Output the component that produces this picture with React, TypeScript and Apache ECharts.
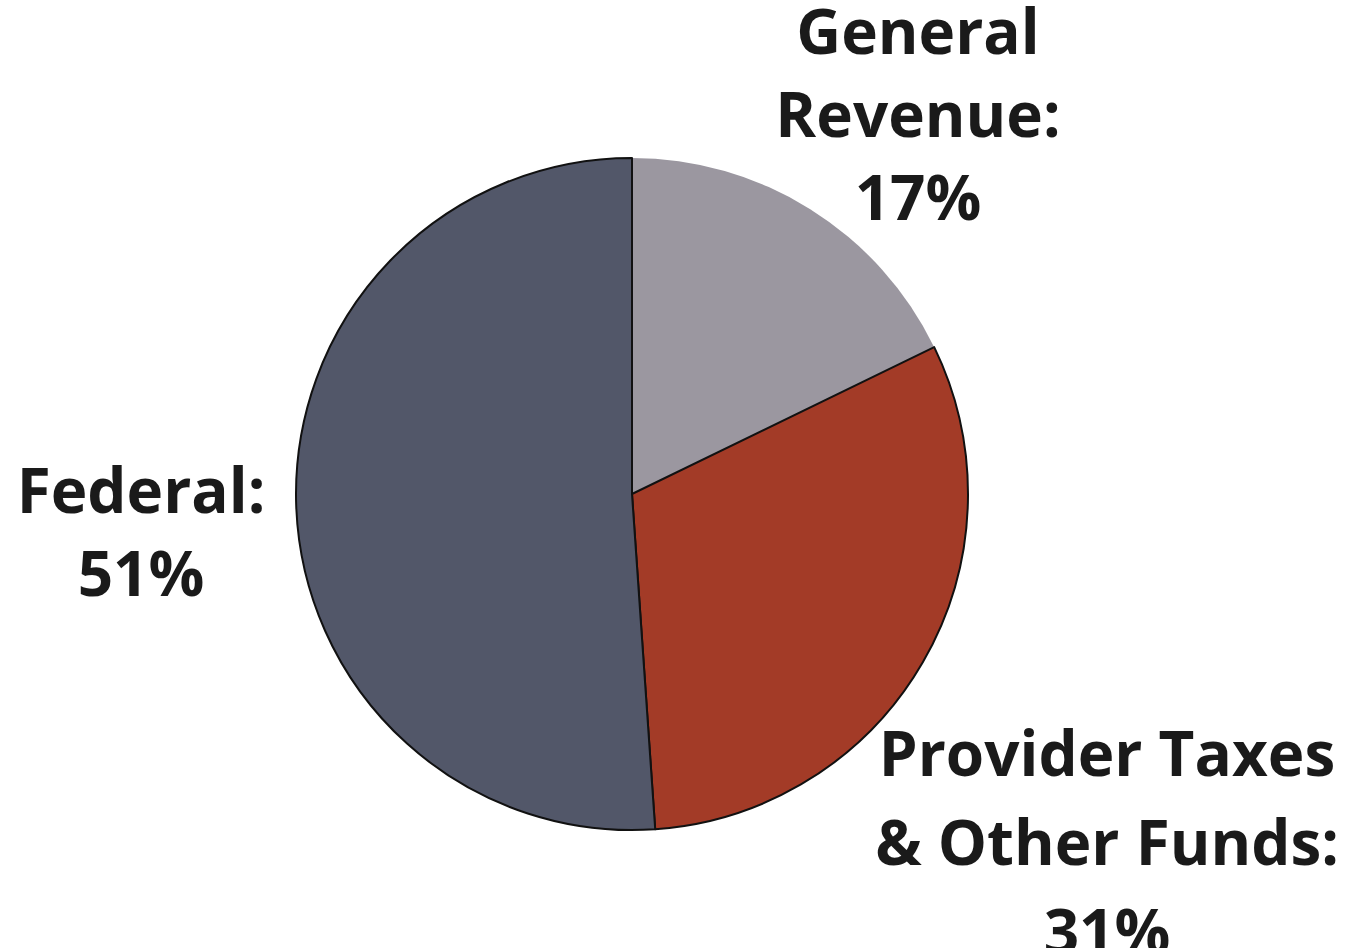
import React, { useEffect, useRef } from "react";
import * as echarts from "echarts";

const categories = ["General\nRevenue", "Provider Taxes\n& Other Funds", "Federal"];
const values = [17.8, 31.1, 51.1];
// percentages as printed in the labels
const pctLabels = ["17%", "31%", "51%"];
const colors = ["#9b97a0", "#a33b27", "#525769"];
const borderWidths = [0, 2, 2];
const labelPos = [
  { x: 918, y: -12, lh: 83 },
  { x: 1107, y: 707, lh: 89 },
  { x: 141, y: 447, lh: 83 },
];

export default function App() {
  const ref = useRef<HTMLDivElement>(null);
  useEffect(() => {
    const chart = echarts.init(ref.current!, null, { renderer: "svg" });
    chart.setOption({
      animation: false,
      backgroundColor: "#ffffff",
      series: [
        {
          type: "pie",
          center: [632, 494],
          radius: 336,
          startAngle: 90,
          clockwise: true,
          data: categories.map((c, i) => ({
            name: c,
            value: values[i],
            itemStyle: { color: colors[i], borderColor: "#111", borderWidth: borderWidths[i] },
            label: { lineHeight: labelPos[i].lh },
          })),
          label: {
            show: true,
            position: "outside",
            formatter: (p: any) => `${p.name}:\n${pctLabels[p.dataIndex]}`,
            fontFamily: "Open Sans",
            fontWeight: "bold",
            fontSize: 62,
            color: "#1a1a1a",
            align: "center",
            overflow: "none",
          },
          labelLine: { show: false },
          labelLayout: (p: any) => ({
            x: labelPos[p.dataIndex].x,
            y: labelPos[p.dataIndex].y,
            align: "center",
            verticalAlign: "top",
          }),
          emphasis: { disabled: true },
        },
      ],
    });
    return () => chart.dispose();
  }, []);
  return (
    <div
      ref={ref}
      style={{ position: "fixed", left: 0, top: 0, width: 1347, height: 948 }}
    />
  );
}
